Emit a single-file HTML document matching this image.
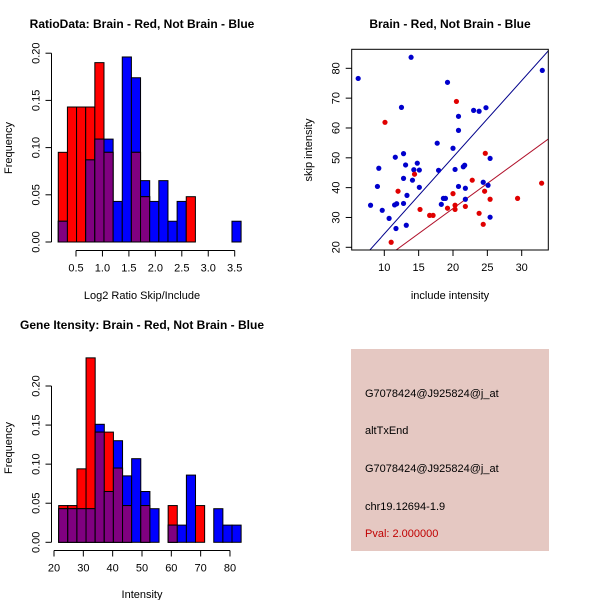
<!DOCTYPE html>
<html><head><meta charset="utf-8"><style>
body{margin:0;background:#fff}
svg{display:block;font-family:"Liberation Sans",sans-serif}
</style></head><body>
<svg id="c" width="600" height="600" xmlns="http://www.w3.org/2000/svg">
<rect x="351" y="349" width="198" height="202" fill="#E5C8C2"/>
<g font-size="11" fill="#000">
<text x="365" y="397">G7078424@J925824@j_at</text>
<text x="365" y="434">altTxEnd</text>
<text x="365" y="472">G7078424@J925824@j_at</text>
<text x="365" y="510">chr19.12694-1.9</text>
<text x="365" y="537" fill="#C00000">Pval: 2.000000</text>
</g>
</svg>
<script>
// Histogram 1: ratio
const h1Start = 0.165, h1Width = 0.1728;
const h1Red  = [0.095,0.143,0.143,0.143,0.190,0.095,0,0,0.095,0.048,0,0,0,0,0.048,0,0,0,0,0];
const h1Blue = [0.022,0,0,0.087,0.109,0.109,0.043,0.196,0.174,0.065,0.043,0.065,0.022,0.043,0,0,0,0,0,0.022];
const h1XTicks = [0.5,1.0,1.5,2.0,2.5,3.0,3.5];
const h1YTicks = [0,0.05,0.10,0.15,0.20];
// Histogram 2: intensity
const h2Start = 21.6, h2Width = 3.11;
const h2Red  = [0.047,0.047,0.094,0.236,0.141,0.141,0.095,0.047,0,0.047,0,0,0.047,0,0,0.047,0,0,0,0];
const h2Blue = [0.043,0.043,0.043,0.043,0.151,0.065,0.130,0.085,0.107,0.065,0.043,0,0.022,0.022,0.086,0,0,0.043,0.022,0.022];
const h2XTicks = [20,30,40,50,60,70,80];
const h2YTicks = [0,0.05,0.10,0.15,0.20];
// Scatter
const blueX = [6.2,13.9,33.0,19.2,12.5,23.0,23.8,24.8,20.8,20.8,17.7,20.0,11.6,12.8,25.4,14.8,13.1,9.2,14.3,15.1,17.9,20.3,21.5,21.7,12.8,14.1,24.4,25.1,9.0,15.1,20.8,21.8,13.3,18.6,18.9,21.8,8.0,11.5,11.8,12.8,18.3,9.7,10.7,11.7,13.2,25.4];
const blueY = [76.6,83.7,79.3,75.3,66.9,65.9,65.6,66.8,63.9,59.2,54.9,53.2,50.2,51.4,49.8,48.2,47.6,46.5,46.0,45.9,45.8,46.1,47.0,47.5,43.1,42.5,41.8,40.8,40.4,40.1,40.4,39.8,37.4,36.4,36.4,36.1,34.1,34.2,34.6,34.7,34.4,32.4,29.7,26.3,27.4,30.1];
const redX = [10.1,20.5,24.7,14.4,12.0,22.8,20.0,24.6,32.9,29.4,25.4,20.3,20.3,21.8,19.2,15.2,16.6,17.1,23.8,24.4,11.0];
const redY = [61.9,68.9,51.5,44.5,38.8,42.5,38.0,38.8,41.5,36.4,36.1,34.1,32.7,33.7,33.1,32.7,30.7,30.7,31.4,27.7,21.7];
const scXTicks = [10,15,20,25,30];
const scYTicks = [20,30,40,50,60,70,80];
const blueLine = [2.57,-1.2]; // slope, intercept
const redLine = [1.68,-0.6];

const svg = document.getElementById('c');
const NS = 'http://www.w3.org/2000/svg';
function mk(tag, attrs, parent){
  const e = document.createElementNS(NS, tag);
  for (const k in attrs) e.setAttribute(k, attrs[k]);
  (parent||svg).appendChild(e);
  return e;
}
function txt(s, attrs, parent){ const t = mk('text', attrs, parent); t.textContent = s; return t; }

function hist(o){
  const g = mk('g', {});
  
  
  const sx = v => o.x0 + (v - o.xv0) * o.kx;
  const sy = v => o.y0 - v * o.ky;
  const n = o.red.length;
  for (let i=0;i<n;i++){
    const a = o.start + i*o.width, b = a + o.width;
    const r = o.red[i], bl = o.blue[i];
    const draw = (v, col, nm) => {
      if (v<=0) return;
      const el = mk('rect', {x:sx(a), y:sy(v), width:sx(b)-sx(a), height:sy(0)-sy(v), fill:col, stroke:'#000', 'stroke-width':1}, g);
      
      
    };
    if (r >= bl){ draw(r,'#FF0000','red-bar'); draw(bl,'#0000FF','blue-bar'); }
    else { draw(bl,'#0000FF','blue-bar'); draw(r,'#FF0000','red-bar'); }
    draw(Math.min(r,bl),'#800080','overlap-bar');
  }
  const xa = mk('g', {}, g);
  
  
  const t0 = sx(o.xticks[0]), t1 = sx(o.xticks[o.xticks.length-1]);
  mk('line', {x1:t0, x2:t1, y1:o.axY, y2:o.axY, stroke:'#000'}, xa);
  o.xticks.forEach(v => {
    mk('line', {x1:sx(v), x2:sx(v), y1:o.axY, y2:o.axY+6, stroke:'#000'}, xa);
    txt(o.xfmt(v), {x:sx(v), y:o.axY+21, 'font-size':11, 'text-anchor':'middle'}, xa);
  });
  const ya = mk('g', {}, g);
  
  
  mk('line', {x1:o.axX, x2:o.axX, y1:sy(o.yticks[0]), y2:sy(o.yticks[o.yticks.length-1]), stroke:'#000'}, ya);
  o.yticks.forEach(v => {
    mk('line', {x1:o.axX-6, x2:o.axX, y1:sy(v), y2:sy(v), stroke:'#000'}, ya);
    txt(v.toFixed(2), {x:0, y:0, 'font-size':11, 'text-anchor':'middle', transform:`translate(${o.axX-12},${sy(v)}) rotate(-90)`}, ya);
  });
  const tl = txt(o.title, {x:o.cx, y:o.titleY, 'font-size':12, 'font-weight':'bold', 'text-anchor':'middle'}, g);
  
  
  const xl = txt(o.xlabel, {x:o.cx, y:o.xlabY, 'font-size':11, 'text-anchor':'middle'}, g);
  
  
  const yl = txt('Frequency', {x:0, y:0, 'font-size':11, 'text-anchor':'middle', transform:`translate(12,${o.ylabY}) rotate(-90)`}, g);
  
  
}

hist({name:'ratio-histogram', red:h1Red, blue:h1Blue, start:h1Start, width:h1Width,
  x0:76, xv0:0.5, kx:52.9, y0:242, ky:944, axY:250.5, axX:51.5,
  xticks:h1XTicks, yticks:h1YTicks, xfmt:v=>v.toFixed(1),
  title:'RatioData: Brain - Red, Not Brain - Blue', cx:142, titleY:28,
  xlabel:'Log2 Ratio Skip/Include', xlabY:299, ylabY:148});
hist({name:'intensity-histogram', red:h2Red, blue:h2Blue, start:h2Start, width:h2Width,
  x0:54, xv0:20, kx:2.933, y0:542.3, ky:781.5, axY:550.5, axX:51.5,
  xticks:h2XTicks, yticks:h2YTicks, xfmt:v=>String(v),
  title:'Gene Itensity: Brain - Red, Not Brain - Blue', cx:142, titleY:329,
  xlabel:'Intensity', xlabY:598, ylabY:448});

// scatter
(function(){
  const g = mk('g', {});
  
  
  const L=351.7, R=548.3, T=49.3, B=250;
  const sx = v => 384.3 + (v-10)*6.87;
  const sy = v => 247.3 - (v-20)*2.983;
  const defs = mk('defs', {}, g);
  const cp = mk('clipPath', {id:'scClip'}, defs);
  mk('rect', {x:L, y:T, width:R-L, height:B-T}, cp);
  const lg = mk('g', {'clip-path':'url(#scClip)'}, g);
  const xs = [0,40];
  [[blueLine,'#00008B','blue-fit-line'],[redLine,'#B0102A','red-fit-line']].forEach(([ln,col,nm]) => {
    const el = mk('line', {x1:sx(xs[0]), y1:sy(ln[0]*xs[0]+ln[1]), x2:sx(xs[1]), y2:sy(ln[0]*xs[1]+ln[1]), stroke:col, 'stroke-width':1}, lg);
    
    
  });
  blueX.forEach((v,i) => {
    const c = mk('circle', {cx:sx(v), cy:sy(blueY[i]), r:2.6, fill:'#0000CC'}, g);
    
    
  });
  redX.forEach((v,i) => {
    const c = mk('circle', {cx:sx(v), cy:sy(redY[i]), r:2.6, fill:'#E00000'}, g);
    
    
  });
  const box = mk('rect', {x:L, y:T, width:R-L, height:B-T, fill:'none', stroke:'#000'}, g);
  
  
  const xa = mk('g', {}, g);
  
  
  scXTicks.forEach(v => {
    mk('line', {x1:sx(v), x2:sx(v), y1:B, y2:B+6, stroke:'#000'}, xa);
    txt(String(v), {x:sx(v), y:B+21, 'font-size':11, 'text-anchor':'middle'}, xa);
  });
  const ya = mk('g', {}, g);
  
  
  scYTicks.forEach(v => {
    mk('line', {x1:L-6, x2:L, y1:sy(v), y2:sy(v), stroke:'#000'}, ya);
    txt(String(v), {x:0, y:0, 'font-size':11, 'text-anchor':'middle', transform:`translate(${L-12},${sy(v)}) rotate(-90)`}, ya);
  });
  const tl = txt('Brain - Red, Not Brain - Blue', {x:450, y:28, 'font-size':12, 'font-weight':'bold', 'text-anchor':'middle'}, g);
  
  
  const xl = txt('include intensity', {x:450, y:299, 'font-size':11, 'text-anchor':'middle'}, g);
  
  
  const yl = txt('skip intensity', {x:0, y:0, 'font-size':11, 'text-anchor':'middle', transform:'translate(312,150) rotate(-90)'}, g);
  
  
})();
</script>
</body></html>
